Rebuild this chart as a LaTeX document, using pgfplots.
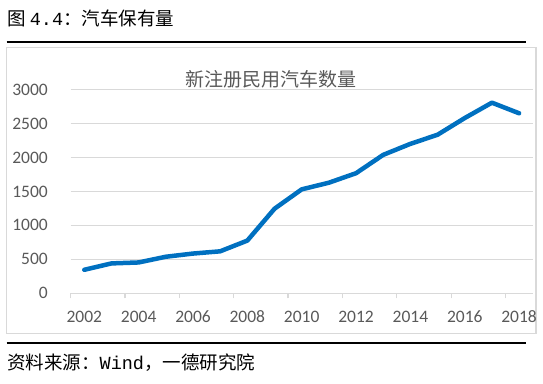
\documentclass[border=0pt]{standalone}
\usepackage{fontspec}
\usepackage{pgfplots}
\pgfplotsset{compat=1.18}
\setmainfont{Carlito}
\setmonofont{Liberation Mono}
\newfontfamily\cjk{Noto Sans CJK SC}
\definecolor{lineblue}{HTML}{0070C0}
\definecolor{gridgray}{HTML}{D9D9D9}
\definecolor{labelgray}{HTML}{595959}
\begin{document}
\begin{tikzpicture}
\path[use as bounding box] (0bp,0bp) rectangle (543bp,384bp);
% heading
\node[anchor=west, inner sep=0pt, font=\fontsize{18.5bp}{20bp}\selectfont] at (7bp,366bp) {{\cjk 图 }{\ttfamily 4.4}{\cjk ：汽车保有量}};
\draw[line width=2bp] (6.7bp,342.3bp) -- (526.3bp,342.3bp);
% chart frame
\draw[draw=gridgray, line width=1.3bp] (6.7bp,50.7bp) rectangle (536bp,336.3bp);
\node[inner sep=0pt, text=labelgray, font=\cjk\fontsize{19bp}{21bp}\selectfont] at (271bp,305bp) {新注册民用汽车数量};
\begin{axis}[
  at={(70.7bp,90.7bp)}, anchor=south west,
  scale only axis, width=462bp, height=203.8bp,
  xmin=-0.5, xmax=16.5, ymin=0, ymax=3000,
  axis x line*=bottom, axis y line*=left,
  x axis line style={-, draw=gridgray, line width=1.3bp},
  y axis line style={-, draw=none},
  ymajorgrids, grid style={draw=gridgray, line width=1.3bp},
  ytick={0,500,...,3000},
  ytick style={draw=none},
  xtick={0,2,...,16},
  xticklabels={2002,2004,2006,2008,2010,2012,2014,2016,2018},
  xtick style={draw=none},
  extra x ticks={-0.5,1.5,3.5,5.5,7.5,9.5,11.5,13.5,15.5},
  extra x tick labels={},
  extra x tick style={xtick style={draw=gridgray, line width=1.3bp}, major tick length=5bp, tick align=outside, grid=none},
  /pgf/number format/.cd, set thousands separator={}, assume math mode=true, /pgfplots/.cd,
  yticklabel style={anchor=east, inner sep=0pt, xshift=-22.7bp, text=labelgray, font=\fontsize{17.5bp}{20bp}\selectfont},
  xticklabel style={anchor=center, inner sep=0pt, yshift=-23.7bp, text=labelgray, font=\fontsize{17.5bp}{20bp}\selectfont},
]
\addplot[color=lineblue, line width=4.5bp, line join=round, line cap=round] coordinates {
(0,346) (1,440) (2,454) (3,538) (4,585) (5,618) (6,776) (7,1245) (8,1530) (9,1628) (10,1768) (11,2038) (12,2200) (13,2334) (14,2580) (15,2806) (16,2650)
};
\end{axis}
% source
\draw[line width=2bp] (6.7bp,41bp) -- (526.3bp,41bp);
\node[anchor=west, inner sep=0pt, font=\fontsize{18.5bp}{20bp}\selectfont] at (7bp,21bp) {{\cjk 资料来源：}{\ttfamily Wind}{\cjk ，一德研究院}};
\end{tikzpicture}
\end{document}
